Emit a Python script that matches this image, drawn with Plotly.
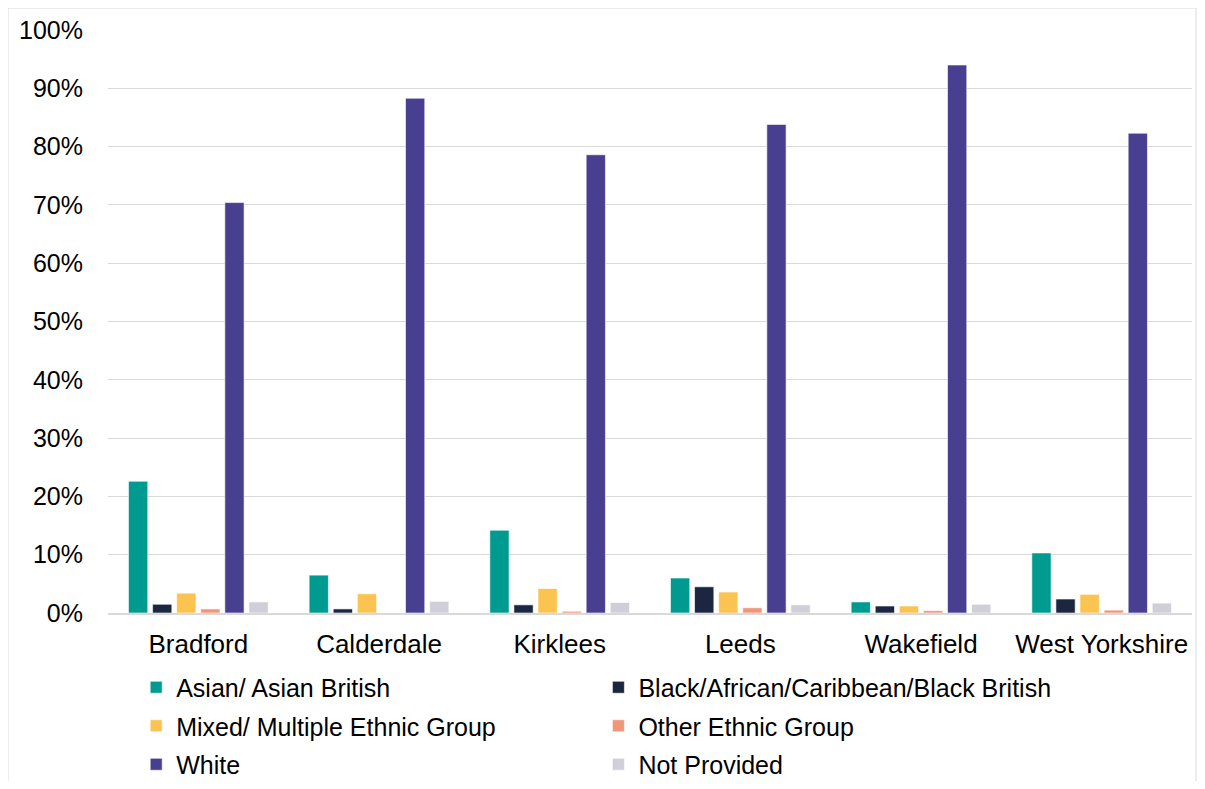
import plotly.graph_objects as go

categories = ["Bradford", "Calderdale", "Kirklees", "Leeds", "Wakefield", "West Yorkshire"]
asian = [22.6, 6.5, 14.2, 6.0, 1.9, 10.3]
black = [1.5, 0.7, 1.4, 4.5, 1.2, 2.4]
mixed = [3.4, 3.3, 4.2, 3.6, 1.2, 3.2]
other = [0.7, 0.0, 0.3, 0.9, 0.4, 0.5]
white = [70.4, 88.3, 78.6, 83.8, 94.0, 82.3]
not_provided = [1.9, 2.0, 1.8, 1.4, 1.5, 1.7]

series = [
    ("Asian/ Asian British", asian, "#009B90", "legend"),
    ("Black/African/Caribbean/Black British", black, "#1B2640", "legend2"),
    ("Mixed/ Multiple Ethnic Group", mixed, "#FBC34F", "legend"),
    ("Other Ethnic Group", other, "#F2967A", "legend2"),
    ("White", white, "#483F91", "legend"),
    ("Not Provided", not_provided, "#D0CFD9", "legend2"),
]

FONT = "Liberation Sans, Arial, sans-serif"

fig = go.Figure()
for i, (name, vals, color, leg) in enumerate(series):
    fig.add_trace(go.Bar(
        x=categories, y=[v / 100 for v in vals], name=name,
        marker=dict(color=color, line=dict(color="rgba(255,255,255,0.6)", width=1)),
        legend=leg, legendgroup=name,
    ))

W, H = 1189, 773
leg_common = dict(orientation="v", xanchor="left", yref="container", y=0.1507, yanchor="top",
                  tracegroupgap=3, font=dict(size=25, color="#000000"),
                  bgcolor="rgba(0,0,0,0)", itemwidth=30)
fig.update_layout(
    width=W, height=H,
    margin=dict(l=100, r=5, t=22, b=168),
    barmode="group", bargap=0.2, bargroupgap=0.2,
    plot_bgcolor="white", paper_bgcolor="white",
    font=dict(family=FONT, size=26, color="#000000"),
    yaxis=dict(range=[0, 1.0], dtick=0.1, tickformat=".0%", showgrid=True,
               gridcolor="#D9D9D9", gridwidth=1, zeroline=False,
               tickfont=dict(size=25, color="#000000"), ticklabelstandoff=24),
    xaxis=dict(showline=True, linecolor="#D9D9D9", linewidth=2,
               tickfont=dict(size=26, color="#000000"), ticklabelstandoff=7),
    legend=dict(x=0.026, **leg_common),
    legend2=dict(x=0.4524, **leg_common),
    shapes=[dict(type="rect", xref="paper", yref="paper",
                 x0=-100 / 1084, x1=(W - 100 - 1) / 1084,
                 y0=-(168 + 5) / 583, y1=(583 + 22) / 583,
                 line=dict(color="#D9D9D9", width=1), fillcolor="rgba(0,0,0,0)", layer="below")],
)

fig.write_html("out.html")
